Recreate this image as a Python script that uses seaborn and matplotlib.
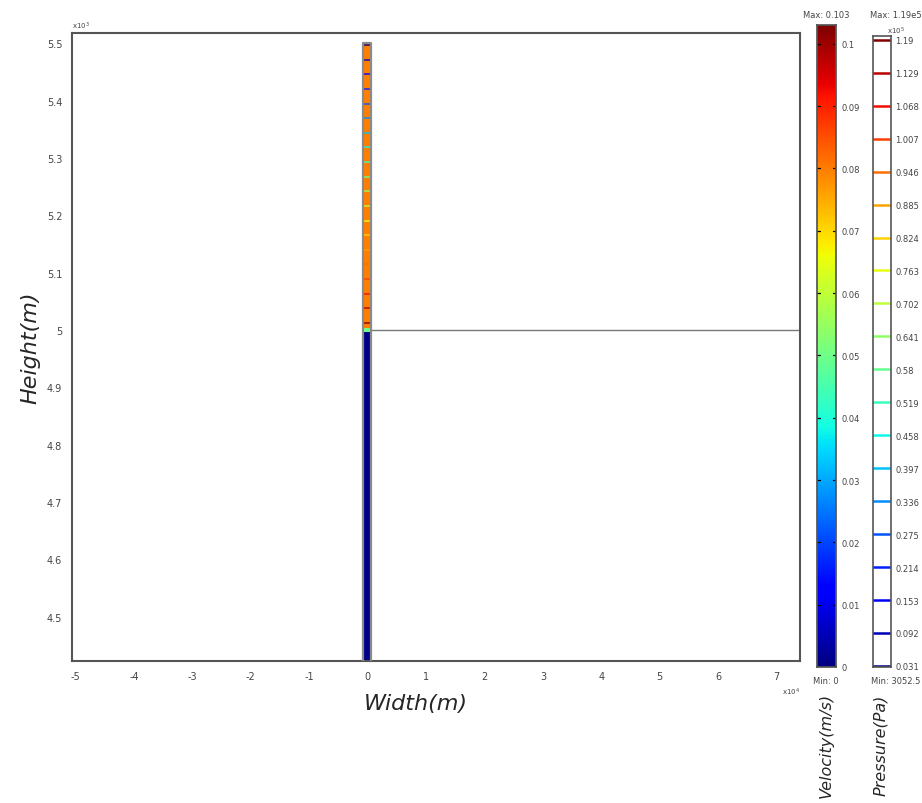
import numpy as np
import matplotlib
matplotlib.use("Agg")
import matplotlib.pyplot as plt
import seaborn as sns
from matplotlib.colors import Normalize

sns.set_theme(style="white")
plt.rcParams["font.family"] = ["DejaVu Sans"]

# Axis ticks (heights in x10^3 m, widths in x10^4 m)
height_ticks = [4.5, 4.6, 4.7, 4.8, 4.9, 5.0, 5.1, 5.2, 5.3, 5.4, 5.5]
height_labels = ["4.5", "4.6", "4.7", "4.8", "4.9", "5", "5.1", "5.2", "5.3", "5.4", "5.5"]
width_ticks = [-5, -4, -3, -2, -1, 0, 1, 2, 3, 4, 5, 6, 7]

# Tube geometry and velocity by segment (bottom -> top)
tube_left, tube_right = -0.08, 0.05
tube_edges = [4.423, 4.996, 5.004, 5.5]
tube_velocity = [0.001, 0.05, 0.08]
interface_height = 5.0

# Pressure contour levels (x10^5 Pa)
pressure_levels = [0.031, 0.092, 0.153, 0.214, 0.275, 0.336, 0.397, 0.458, 0.519,
                   0.58, 0.641, 0.702, 0.763, 0.824, 0.885, 0.946, 1.007, 1.068,
                   1.129, 1.19]
pressure_labels = ["0.031", "0.092", "0.153", "0.214", "0.275", "0.336", "0.397",
                   "0.458", "0.519", "0.58", "0.641", "0.702", "0.763", "0.824",
                   "0.885", "0.946", "1.007", "1.068", "1.129", "1.19"]
# Heights where each pressure contour crosses the upper tube section
pressure_heights = [5.497, 5.4715, 5.446, 5.4205, 5.395, 5.3695, 5.344, 5.3185,
                    5.293, 5.2675, 5.242, 5.2165, 5.191, 5.1655, 5.14, 5.1145,
                    5.089, 5.0635, 5.038, 5.0125]

velocity_ticks = [0, 0.01, 0.02, 0.03, 0.04, 0.05, 0.06, 0.07, 0.08, 0.09, 0.1]
velocity_labels = ["0", "0.01", "0.02", "0.03", "0.04", "0.05", "0.06", "0.07",
                   "0.08", "0.09", "0.1"]
velocity_max = 0.103
pressure_min, pressure_max = 0.0305, 1.19

cmap = plt.get_cmap("jet")
vnorm = Normalize(0, velocity_max)
pnorm = Normalize(pressure_min, pressure_max)

fig = plt.figure(figsize=(9.22, 8.04), dpi=100)
W, H = 922, 804
TXT = "#444444"

def box(x0, y0, x1, y1):
    return [x0 / W, 1 - y1 / H, (x1 - x0) / W, (y1 - y0) / H]

ax = fig.add_axes(box(72, 34, 800, 662))
ax.set_xlim(-5.06, 7.40)
ax.set_ylim(4.423, 5.518)

# Velocity field inside the tube
X = np.array([tube_left, tube_right])
Y = np.array(tube_edges)
C = np.array(tube_velocity).reshape(-1, 1)
ax.pcolormesh(X, Y, C, cmap=cmap, norm=vnorm, shading="flat", zorder=2)

# Pressure contours across the tube
for lev, hy in zip(pressure_levels, pressure_heights):
    ax.plot([tube_left, tube_right], [hy, hy], color=cmap(pnorm(lev)), lw=1.2,
            alpha=0.85, zorder=3)

# Tube walls
ax.plot([tube_left, tube_left, tube_right, tube_right],
        [4.423, 5.5, 5.5, 4.423], color="#8a8a8a", lw=1.6, zorder=4,
        solid_joinstyle="round")

# Interface boundary
sns.lineplot(x=[tube_right, 7.40], y=[interface_height, interface_height],
             ax=ax, color="#7a7a7a", lw=1.0)

ax.set_xticks(width_ticks)
ax.set_xticklabels([str(t) for t in width_ticks], fontsize=7, color=TXT)
ax.set_yticks(height_ticks)
ax.set_yticklabels(height_labels, fontsize=7, color=TXT)
ax.tick_params(length=0, pad=7)
for s in ax.spines.values():
    s.set_color("#555555")
    s.set_linewidth(1.5)

ax.text(0.0, 1.003, r"x10$^3$", transform=ax.transAxes, fontsize=5, ha="left",
        va="bottom", color=TXT)
ax.text(1.0, -0.04, r"x10$^4$", transform=ax.transAxes, fontsize=5, ha="right",
        va="top", color=TXT)
fig.text(416 / W, 1 - 704 / H, "Width(m)", fontsize=16, style="italic",
         ha="center", va="center")
fig.text(30 / W, 1 - 348 / H, "Height(m)", fontsize=16, style="italic",
         rotation=90, ha="center", va="center")

# Velocity colour bar
vax = fig.add_axes(box(817, 26, 836, 668))
vgrad = np.linspace(0, velocity_max, 256).reshape(-1, 1)
vax.imshow(vgrad, cmap=cmap, norm=vnorm, aspect="auto", origin="lower",
           extent=[0, 1, 0, velocity_max])
vax.set_xticks([])
vax.yaxis.tick_right()
vax.set_yticks(velocity_ticks)
vax.set_yticklabels(velocity_labels, fontsize=6, color=TXT)
vax.tick_params(axis="y", length=0, pad=4)
for t in velocity_ticks[1:]:
    vax.plot([0, 0.15], [t, t], color="black", lw=0.9)
    vax.plot([0.85, 1], [t, t], color="black", lw=0.9)
vax.set_xlim(0, 1)
vax.set_ylim(0, velocity_max)
for s in vax.spines.values():
    s.set_color("#555555")
fig.text(826 / W, 1 - 15 / H, "Max: 0.103", fontsize=6, ha="center",
         va="center", color=TXT)
fig.text(826 / W, 1 - 682 / H, "Min: 0", fontsize=6, ha="center",
         va="center", color=TXT)
fig.text(826 / W, 1 - 745 / H, "Velocity(m/s)", rotation=90, fontsize=11.5,
         style="italic", ha="center", va="center")

# Pressure contour legend
pax = fig.add_axes(box(873, 37, 891, 668))
pax.set_xlim(0, 1)
pax.set_ylim(0.029, 1.197)
for lev in pressure_levels:
    pax.plot([0, 1], [lev, lev], color=cmap(pnorm(lev)), lw=1.8)
pax.set_xticks([])
pax.yaxis.tick_right()
pax.set_yticks(pressure_levels)
pax.set_yticklabels(pressure_labels, fontsize=6, color=TXT)
pax.tick_params(axis="y", length=0, pad=3)
for s in pax.spines.values():
    s.set_color("#555555")
    s.set_linewidth(1.2)
fig.text(896 / W, 1 - 31 / H, r"x10$^5$", fontsize=5, ha="center",
         va="center", color=TXT)
fig.text(896 / W, 1 - 15 / H, "Max: 1.19e5", fontsize=6, ha="center",
         va="center", color=TXT)
fig.text(896 / W, 1 - 682 / H, "Min: 3052.5", fontsize=6, ha="center",
         va="center", color=TXT)
fig.text(881 / W, 1 - 745 / H, "Pressure(Pa)", rotation=90, fontsize=11.5,
         style="italic", ha="center", va="center")

fig.savefig("out.png", dpi=100)
